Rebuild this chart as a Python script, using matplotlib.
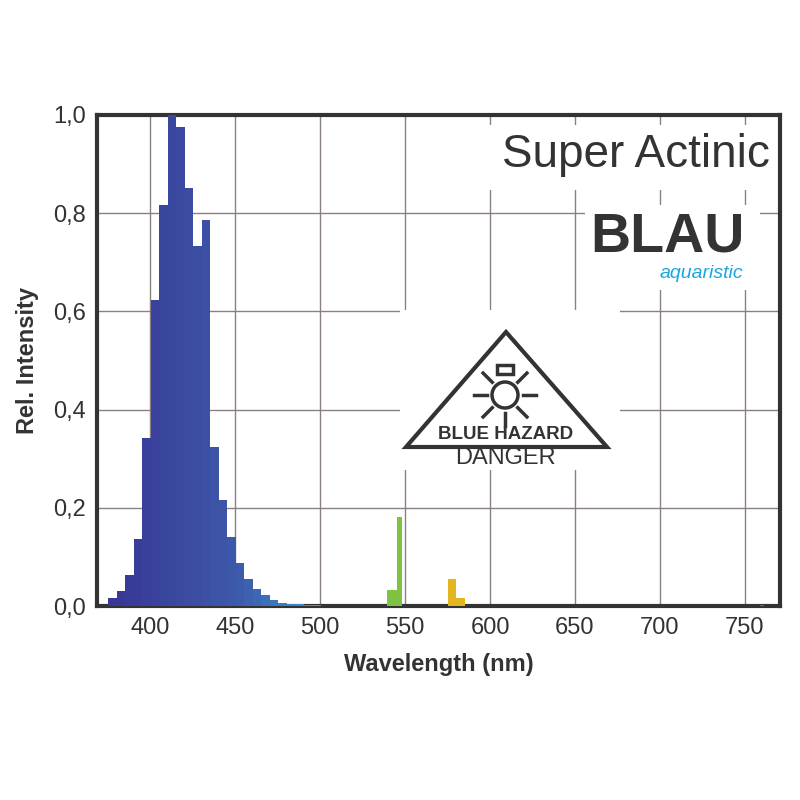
import matplotlib
matplotlib.use("Agg")
import matplotlib.pyplot as plt
import numpy as np
from matplotlib.patches import Polygon, Circle, Rectangle

plt.rcParams['font.family'] = ['Liberation Sans', 'DejaVu Sans']

blue_left = [375.5 + 5*i for i in range(26)]
blue_vals = [0.016, 0.031, 0.063, 0.136, 0.342, 0.623, 0.816, 1.0, 0.976, 0.851,
             0.733, 0.786, 0.324, 0.216, 0.141, 0.087, 0.056, 0.034, 0.022, 0.012,
             0.007, 0.005, 0.004, 0.003, 0.002, 0.001]
green_left = [539.5, 545.0]
green_vals = [0.033, 0.182]
green_w = [5.5, 3.5]
yellow_left = [575.5, 580.0]
yellow_vals = [0.056, 0.017]
yellow_w = [4.5, 5.0]
xticks = [400, 450, 500, 550, 600, 650, 700, 750]
yticks = [0.0, 0.2, 0.4, 0.6, 0.8, 1.0]
ytick_labels = ["0,0", "0,2", "0,4", "0,6", "0,8", "1,0"]

fig = plt.figure(figsize=(8, 8), dpi=100)
ax = fig.add_axes([97/800, 1-606/800, (780-97)/800, (606-115)/800])
ax.set_xlim(368.8, 770.6)
ax.set_ylim(0, 1.0)

def bcol(w):
    t = np.clip((w - 375) / (500 - 375), 0, 1)
    c0 = np.array([0x38, 0x36, 0x96]) / 255
    c1 = np.array([0x3d, 0x5a, 0xaa]) / 255
    c2 = np.array([0x3a, 0x9a, 0xdc]) / 255
    if t < 0.6:
        return c0 + (c1 - c0) * (t / 0.6)
    return c1 + (c2 - c1) * ((t - 0.6) / 0.4)

ax.bar(blue_left, blue_vals, width=5.05, align='edge',
       color=[bcol(w) for w in blue_left], linewidth=0, zorder=3)
ax.bar(green_left, green_vals, width=green_w, align='edge', color='#7dc242', linewidth=0, zorder=3)
ax.bar(yellow_left, yellow_vals, width=yellow_w, align='edge', color='#e3b61f', linewidth=0, zorder=3)
ax.bar([759], [0.003], width=2, align='edge', color='#d04040', linewidth=0, zorder=3)

ax.set_xticks(xticks)
ax.set_yticks(yticks)
ax.set_yticklabels(ytick_labels)
ax.grid(True, color='#8a8080', linewidth=1.0, zorder=0)
ax.tick_params(length=0, labelsize=17, colors='#333333', pad=8)
for s in ax.spines.values():
    s.set_linewidth(3)
    s.set_color('#333333')
ax.set_xlabel("Wavelength (nm)", fontsize=17, fontweight='bold', color='#333333', labelpad=10)
ax.set_ylabel("Rel. Intensity", fontsize=17, fontweight='bold', color='#333333', labelpad=10)

def F(x, y):
    return (x/800, 1 - y/800)

def frect(x0, y0, x1, y1):
    fig.add_artist(Rectangle(F(x0, y1), (x1-x0)/800, (y1-y0)/800, transform=fig.transFigure,
                             facecolor='white', edgecolor='none', zorder=2))

# white masks
frect(465, 125, 775, 190)
frect(585, 205, 760, 290)
frect(400, 310, 620, 470)

fig.text(*F(770, 155), "Super Actinic", fontsize=33, color='#333333', ha='right', va='center', zorder=5)
fig.text(*F(745, 238), "BLAU", fontsize=40, fontweight='bold', color='#333333', ha='right', va='center', zorder=5)
fig.text(*F(743, 274), "aquaristic", fontsize=14, style='italic', color='#1aa6e0', ha='right', va='center', zorder=5)

# triangle
fig.add_artist(Polygon([F(506, 332), F(406, 447), F(607, 447)], closed=True, transform=fig.transFigure,
                       facecolor='white', edgecolor='#333333', linewidth=3, zorder=5))
cx, cy, r = 505, 395, 13
fig.add_artist(Circle(F(cx, cy), r/800, transform=fig.transFigure, facecolor='none',
                      edgecolor='#333333', linewidth=2.5, zorder=6))
fig.add_artist(Rectangle(F(497, 374), 16/800, 9/800, transform=fig.transFigure, facecolor='white',
                         edgecolor='#333333', linewidth=2.5, zorder=6))
for ang in [0, 45, 135, 180, 225, 270, 315]:
    a = np.deg2rad(ang)
    x0, y0 = cx + 18*np.cos(a), cy - 18*np.sin(a)
    x1, y1 = cx + 31*np.cos(a), cy - 31*np.sin(a)
    fig.add_artist(plt.Line2D([x0/800, x1/800], [1-y0/800, 1-y1/800], transform=fig.transFigure,
                              color='#333333', linewidth=2.5, zorder=6))
fig.text(*F(506, 435), "BLUE HAZARD", fontsize=13.5, fontweight='bold', color='#333333', ha='center', va='center', zorder=7)
fig.text(*F(505, 458), "DANGER", fontsize=17, color='#333333', ha='center', va='center', zorder=7)

fig.savefig("out.png", dpi=100, facecolor='white')
